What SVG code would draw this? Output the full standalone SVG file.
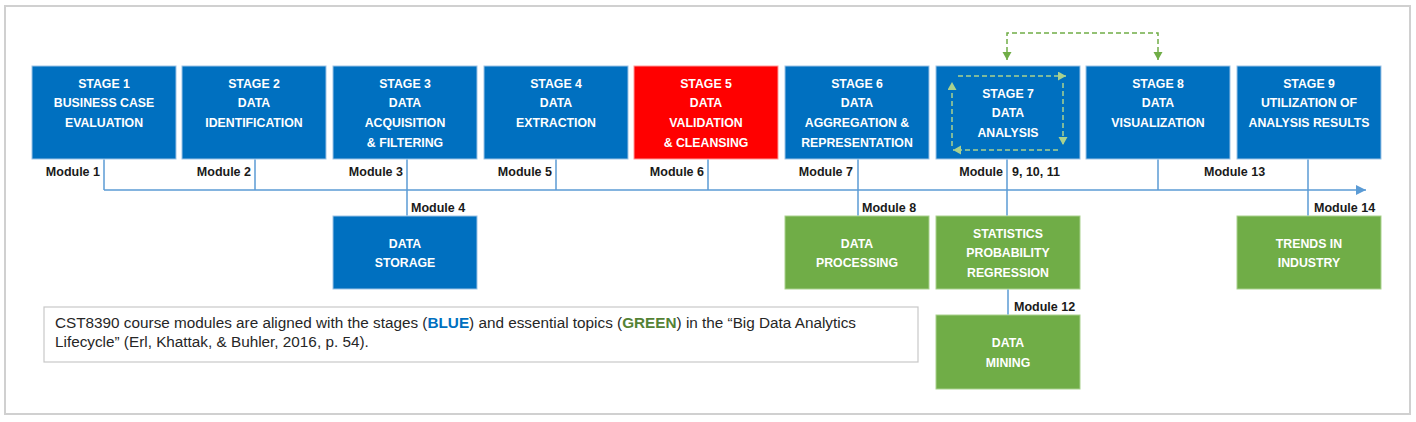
<svg xmlns="http://www.w3.org/2000/svg" width="1416" height="422" viewBox="0 0 1416 422">
<style>
.blue{fill:#0070c0;stroke:#9dc3e6;stroke-width:1}
.red{fill:#ff0000;stroke:#ff9999;stroke-width:1}
.green{fill:#70ad47;stroke:#a9d18e;stroke-width:1}
.t{font-family:"Liberation Sans",Arial,sans-serif;font-size:12.3px;font-weight:bold;fill:#ffffff;text-anchor:middle}
.m{font-family:"Liberation Sans",Arial,sans-serif;font-size:12.5px;font-weight:bold;fill:#1a1a1a}
.e{text-anchor:end}
.ln{fill:none;stroke:#5b9bd5;stroke-width:1.5}
.dg{fill:none;stroke:#70ad47;stroke-width:1.5;stroke-dasharray:5 3}
.dl{fill:none;stroke:#a9d18e;stroke-width:1.5;stroke-dasharray:5 3}
.cap{font-family:"Liberation Sans",Arial,sans-serif;font-size:15.3px;fill:#262626}
</style>
<defs>
<marker id="ab" markerUnits="userSpaceOnUse" markerWidth="12" markerHeight="10" refX="10" refY="5" orient="auto"><path d="M0,0 L10,5 L0,10 z" fill="#5b9bd5"/></marker>
<marker id="ag" markerUnits="userSpaceOnUse" markerWidth="10" markerHeight="10" refX="8" refY="4.5" orient="auto-start-reverse"><path d="M0,0 L8,4.5 L0,9 z" fill="#70ad47"/></marker>
<marker id="al" markerUnits="userSpaceOnUse" markerWidth="10" markerHeight="10" refX="8" refY="4.5" orient="auto"><path d="M0,0 L8,4.5 L0,9 z" fill="#a9d18e"/></marker>
</defs>
<rect x="5" y="6" width="1405" height="408" fill="#ffffff" stroke="#d0d0d0" stroke-width="2"/>

<g id="stage1"><rect class="blue" x="32" y="66" width="144" height="93"/><text class="t"><tspan x="104" y="87.5">STAGE 1</tspan><tspan x="104" y="107.3">BUSINESS CASE</tspan><tspan x="104" y="127.1">EVALUATION</tspan></text></g>
<g id="stage2"><rect class="blue" x="182" y="66" width="144" height="93"/><text class="t"><tspan x="254" y="87.5">STAGE 2</tspan><tspan x="254" y="107.3">DATA</tspan><tspan x="254" y="127.1">IDENTIFICATION</tspan></text></g>
<g id="stage3"><rect class="blue" x="333" y="66" width="144" height="93"/><text class="t"><tspan x="405" y="87.5">STAGE 3</tspan><tspan x="405" y="107.3">DATA</tspan><tspan x="405" y="127.1">ACQUISITION</tspan><tspan x="405" y="146.9">&amp; FILTERING</tspan></text></g>
<g id="stage4"><rect class="blue" x="484" y="66" width="144" height="93"/><text class="t"><tspan x="556" y="87.5">STAGE 4</tspan><tspan x="556" y="107.3">DATA</tspan><tspan x="556" y="127.1">EXTRACTION</tspan></text></g>
<g id="stage5"><rect class="red" x="634" y="66" width="144" height="93"/><text class="t"><tspan x="706" y="87.5">STAGE 5</tspan><tspan x="706" y="107.3">DATA</tspan><tspan x="706" y="127.1">VALIDATION</tspan><tspan x="706" y="146.9">&amp; CLEANSING</tspan></text></g>
<g id="stage6"><rect class="blue" x="785" y="66" width="144" height="93"/><text class="t"><tspan x="857" y="87.5">STAGE 6</tspan><tspan x="857" y="107.3">DATA</tspan><tspan x="857" y="127.1">AGGREGATION &amp;</tspan><tspan x="857" y="146.9">REPRESENTATION</tspan></text></g>
<g id="stage7"><rect class="blue" x="936" y="66" width="144" height="93"/><text class="t"><tspan x="1008" y="97.5">STAGE 7</tspan><tspan x="1008" y="117.3">DATA</tspan><tspan x="1008" y="137.1">ANALYSIS</tspan></text></g>
<g id="stage8"><rect class="blue" x="1086" y="66" width="144" height="93"/><text class="t"><tspan x="1158" y="87.5">STAGE 8</tspan><tspan x="1158" y="107.3">DATA</tspan><tspan x="1158" y="127.1">VISUALIZATION</tspan></text></g>
<g id="stage9"><rect class="blue" x="1237" y="66" width="144" height="93"/><text class="t"><tspan x="1309" y="87.5">STAGE 9</tspan><tspan x="1309" y="107.3">UTILIZATION OF</tspan><tspan x="1309" y="127.1">ANALYSIS RESULTS</tspan></text></g>

<g id="storage"><rect class="blue" x="333" y="216" width="144" height="73"/><text class="t"><tspan x="405" y="247.5">DATA</tspan><tspan x="405" y="267">STORAGE</tspan></text></g>
<g id="processing"><rect class="green" x="785" y="216" width="144" height="73"/><text class="t"><tspan x="857" y="247.5">DATA</tspan><tspan x="857" y="267">PROCESSING</tspan></text></g>
<g id="statistics"><rect class="green" x="936" y="216" width="144" height="73"/><text class="t"><tspan x="1008" y="237.5">STATISTICS</tspan><tspan x="1008" y="257">PROBABILITY</tspan><tspan x="1008" y="276.5">REGRESSION</tspan></text></g>
<g id="trends"><rect class="green" x="1237" y="216" width="144" height="73"/><text class="t"><tspan x="1309" y="247.5">TRENDS IN</tspan><tspan x="1309" y="267">INDUSTRY</tspan></text></g>
<g id="mining"><rect class="green" x="936" y="315" width="144" height="74"/><text class="t"><tspan x="1008" y="347">DATA</tspan><tspan x="1008" y="366.5">MINING</tspan></text></g>

<g id="connectors">
<path class="ln" d="M104,190 H1366" marker-end="url(#ab)"/>
<path class="ln" d="M104,159.5 V190"/>
<path class="ln" d="M255,159.5 V190"/>
<path class="ln" d="M407,159.5 V215.5"/>
<path class="ln" d="M556,159.5 V190"/>
<path class="ln" d="M708,159.5 V190"/>
<path class="ln" d="M858,159.5 V215.5"/>
<path class="ln" d="M1007,159.5 V215.5"/>
<path class="ln" d="M1158,159.5 V190"/>
<path class="ln" d="M1308,159.5 V215.5"/>
<path class="ln" d="M1008,289.5 V314.5"/>
<path class="dg" d="M1007,60 V33 H1158 V60" marker-start="url(#ag)" marker-end="url(#ag)"/>
<path class="dl" d="M958,76 H1066" marker-end="url(#al)"/>
<path class="dl" d="M1063,83 V145" marker-end="url(#al)"/>
<path class="dl" d="M1058,150 H953" marker-end="url(#al)"/>
<path class="dl" d="M952,146 V82" marker-end="url(#al)"/>
</g>

<g id="modules">
<text class="m e" x="100" y="175.5">Module 1</text>
<text class="m e" x="251" y="175.5">Module 2</text>
<text class="m e" x="403" y="175.5">Module 3</text>
<text class="m e" x="552" y="175.5">Module 5</text>
<text class="m e" x="704" y="175.5">Module 6</text>
<text class="m e" x="853" y="175.5">Module 7</text>
<text class="m e" x="1003" y="175.5">Module</text>
<text class="m" x="1012" y="175.5">9, 10, 11</text>
<text class="m" x="1204" y="175.5">Module 13</text>
<text class="m" x="411" y="211.5">Module 4</text>
<text class="m" x="862" y="211.5">Module 8</text>
<text class="m" x="1314" y="211.5">Module 14</text>
<text class="m" x="1014" y="310.5">Module 12</text>
</g>

<g id="caption">
<rect x="44" y="307" width="874" height="55" fill="#ffffff" stroke="#c8c8c8" stroke-width="1.2"/>
<text class="cap" x="55" y="328">CST8390 course modules are aligned with the stages (<tspan fill="#0070c0" font-weight="bold">BLUE</tspan>) and essential topics (<tspan fill="#548235" font-weight="bold">GREEN</tspan>) in the “Big Data Analytics</text>
<text class="cap" x="55" y="347">Lifecycle” (Erl, Khattak, &amp; Buhler, 2016, p. 54).</text>
</g>
</svg>
